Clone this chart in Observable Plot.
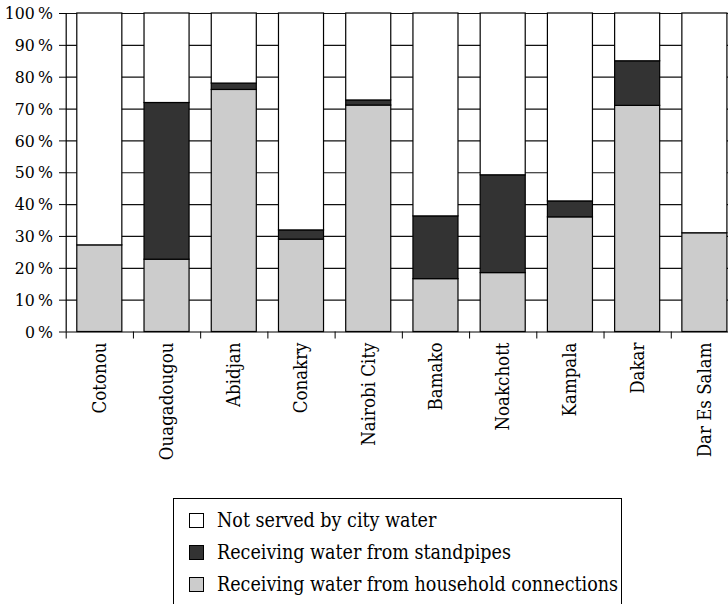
<!DOCTYPE html>
<html>
<head>
<meta charset="utf-8">
<script src="https://cdn.jsdelivr.net/npm/d3@7"></script>
<script src="https://cdn.jsdelivr.net/npm/@observablehq/plot@0.6"></script>
<style>
  html, body { margin: 0; padding: 0; background: #fff; overflow: hidden; width: 728px; height: 604px; }
  #chart svg { display: block; }
  .legend { position: absolute; left: 173px; top: 498px; width: 447px; height: 130px; border: 1px solid #000;
            font-family: "DejaVu Serif Condensed", "DejaVu Serif", serif; font-stretch: condensed; font-size: 19.5px; color: #000; box-sizing: content-box; }
  .row { position: absolute; left: 15px; height: 22px; display: flex; align-items: center; white-space: nowrap; }
  .sw { width: 13px; height: 13px; border: 1px solid #000; margin-right: 13px; flex: none; }
</style>
</head>
<body>
<div id="chart"></div>
<div class="legend" id="legend"></div>
<script>
const cities = ["Cotonou", "Ouagadougou", "Abidjan", "Conakry", "Nairobi City", "Bamako", "Noakchott", "Kampala", "Dakar", "Dar Es Salam"];
const household = [27.2, 22.7, 76, 29, 71.1, 16.6, 18.5, 36, 71, 31];
const standpipes = [0, 49.2, 2, 2.9, 1.6, 19.7, 30.7, 5, 14, 0];
const seriesNames = ["Receiving water from household connections", "Receiving water from standpipes", "Not served by city water"];
const seriesColors = ["#cccccc", "#333333", "#ffffff"];
const yTicks = [0, 10, 20, 30, 40, 50, 60, 70, 80, 90, 100];

// build stacked table
const rows = [];
cities.forEach((c, i) => {
  const vals = [household[i], standpipes[i], 100 - household[i] - standpipes[i]];
  let acc = 0;
  vals.forEach((v, k) => {
    rows.push({i, city: c, series: seriesNames[k], y1: acc, y2: acc + v});
    acc += v;
  });
});

const serif = '"DejaVu Serif Condensed", "DejaVu Serif", serif';
const W = 728, H = 480;

const plot = Plot.plot({
  width: W,
  height: H,
  marginTop: 13,
  marginBottom: H - 331.5,
  marginLeft: 66,
  marginRight: 0,
  style: {fontFamily: serif, fontStretch: "condensed", fontSize: "17.5px", color: "#000", background: "#fff"},
  x: {type: "linear", domain: [0, cities.length], range: [65.7, 738]},
  y: {domain: [0, 100]},
  color: {domain: seriesNames, range: seriesColors},
  marks: [
    Plot.ruleY(yTicks.filter(d => d > 0), {stroke: "#111", strokeWidth: 1.2}),
    Plot.rect(rows, {
      x1: d => d.i + 0.165,
      x2: d => d.i + 0.835,
      y1: "y1",
      y2: "y2",
      fill: "series",
      stroke: "#000",
      strokeWidth: 1.2
    }),
    Plot.ruleX([0], {stroke: "#000", strokeWidth: 1.2}),
    Plot.ruleY([0], {stroke: "#000", strokeWidth: 1.2}),
    Plot.axisY({ticks: yTicks, tickSize: 7, tickPadding: 6.5, tickFormat: d => d + "\u2009%", fontSize: 17.5, fontFamily: serif, stroke: "#000"}),
    Plot.axisX({ticks: d3.range(0, cities.length + 1), tickSize: 7, tickFormat: () => "", stroke: "#000"}),
    Plot.text(cities, {
      x: (d, i) => i + 0.5,
      y: () => 0,
      text: d => d,
      rotate: -90,
      textAnchor: "end",
      lineAnchor: "middle",
      dy: 10.5,
      fontSize: 18.5,
      fontFamily: serif,
      fill: "#000"
    })
  ]
});
document.getElementById("chart").appendChild(plot);

// legend (top-to-bottom: not served, standpipes, household)
const legend = document.getElementById("legend");
const order = [2, 1, 0];
const rowCenters = [21, 53, 85];
order.forEach((k, r) => {
  const row = document.createElement("div");
  row.className = "row";
  row.style.top = (rowCenters[r] - 11) + "px";
  const sw = document.createElement("span");
  sw.className = "sw";
  sw.style.background = seriesColors[k];
  const t = document.createElement("span");
  t.textContent = seriesNames[k];
  row.appendChild(sw);
  row.appendChild(t);
  legend.appendChild(row);
});
</script>
</body>
</html>
